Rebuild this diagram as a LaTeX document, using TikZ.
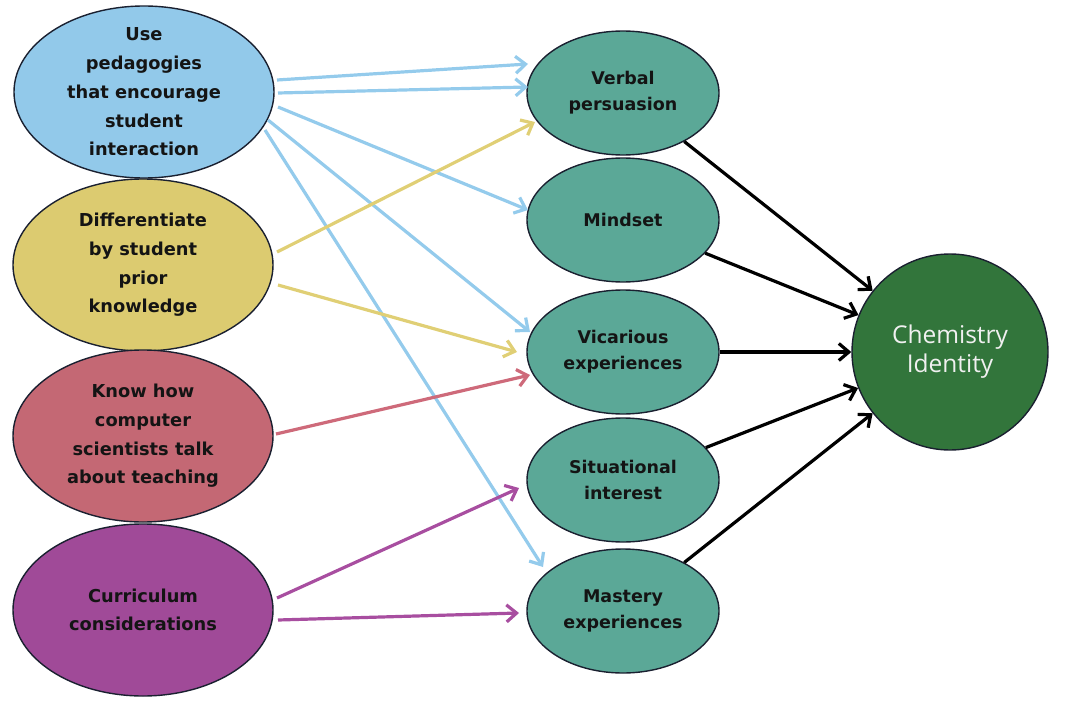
\documentclass[tikz,border=0pt]{standalone}
\usepackage{fontspec}
\setmainfont{DejaVu Sans}
\newfontfamily\cifont{Open Sans}
\usetikzlibrary{shapes.geometric,arrows.meta,calc}
\definecolor{cblue}{HTML}{92C9EA}
\definecolor{cyellow}{HTML}{DCCB70}
\definecolor{cred}{HTML}{C46874}
\definecolor{cpurple}{HTML}{A04A98}
\definecolor{cteal}{HTML}{5BA897}
\definecolor{cgreen}{HTML}{32753B}
\definecolor{ablue}{HTML}{94CBEC}
\definecolor{ayellow}{HTML}{E0CF75}
\definecolor{ared}{HTML}{CE6A7A}
\definecolor{apurple}{HTML}{A84EA0}
\definecolor{outline}{HTML}{1A2030}
\begin{document}
\begin{tikzpicture}[x=1pt,y=-1pt,
  ell/.style={ellipse, draw=outline, line width=1.4pt, inner sep=0pt},
  srcell/.style={ell, minimum width=260pt, minimum height=172pt},
  midell/.style={ell, minimum width=192pt, minimum height=124pt, fill=cteal},
  srctxt/.style={align=center, text=black!92, font=\fontsize{17.8}{28.7}\selectfont\bfseries},
  midtxt/.style={align=center, text=black!92, font=\fontsize{17.5}{26}\selectfont\bfseries},
  arr/.style={line width=3.2pt, -{Straight Barb[length=10pt,width=17pt]}},
  blk/.style={line width=3.2pt, black, -{Straight Barb[length=10pt,width=17pt]}}
]
\useasboundingbox (0,0) rectangle (1065,706);

% source ellipses
\node[srcell, fill=cblue]   (b) at (144,92) {};
\node[srcell, fill=cyellow] (y) at (143,265) {};
\node[srcell, fill=cred]    (r) at (143,436) {};
\node[srcell, fill=cpurple] (p) at (143,610) {};
\node[srctxt] (bt) at (b) {Use\\pedagogies\\that encourage\\student\\interaction};
\node[srctxt] (yt) at (y) {Differentiate\\by student\\prior\\knowledge};
\node[srctxt] (rt) at (r) {Know how\\computer\\scientists talk\\about teaching};
\node[srctxt] (pt) at (p) {Curriculum\\considerations};

% middle ellipses
\node[midell] (vp) at (623,93) {};
\node[midell] (ms) at (623,220) {};
\node[midell] (vc) at (623,352) {};
\node[midell] (si) at (623,480) {};
\node[midell] (ma) at (623,611) {};
\node[midtxt] (vpt) at (vp) {Verbal\\persuasion};
\node[midtxt] (mst) at (ms) {Mindset};
\node[midtxt] (vct) at (vc) {Vicarious\\experiences};
\node[midtxt] (sit) at (si) {Situational\\interest};
\node[midtxt] (mat) at (ma) {Mastery\\experiences};

% outcome
\node[circle, draw=outline, line width=1.4pt, fill=cgreen, minimum size=196pt, inner sep=0pt] (ci) at (950,352) {};
\node[align=center, text=white!94!black, font=\cifont\fontsize{24.5}{29}\selectfont] (cit) at (ci) {Chemistry\\Identity};

% coloured connectors
\draw[arr, ablue] ($(b)+(133,-12)$) -- ($(vp)+(-95,-29)$);
\draw[arr, ablue] ($(b)+(134,1)$) -- ($(vp)+(-95,-6)$);
\draw[arr, ablue] ($(b)+(134,15)$) -- ($(ms)+(-95,-10)$);
\draw[arr, ablue] ($(b)+(124,28)$) -- ($(vc)+(-93,-20)$);
\draw[arr, ablue] ($(b)+(121,38)$) -- ($(ma)+(-80,-44)$);
\draw[arr, ayellow] ($(y)+(134,-13)$) -- ($(vp)+(-88,29)$);
\draw[arr, ayellow] ($(y)+(135,20)$) -- ($(vc)+(-106,0)$);
\draw[arr, ared] ($(r)+(133,-2)$) -- ($(vc)+(-93,23)$);
\draw[arr, apurple] ($(p)+(134,-12)$) -- ($(si)+(-104,8)$);
\draw[arr, apurple] ($(p)+(135,10)$) -- ($(ma)+(-104,2)$);

% black connectors
\draw[blk] (vp) -- (ci);
\draw[blk] (ms) -- (ci);
\draw[blk] (vc) -- (ci);
\draw[blk] (si) -- (ci);
\draw[blk] (ma) -- (ci);
\end{tikzpicture}
\end{document}
